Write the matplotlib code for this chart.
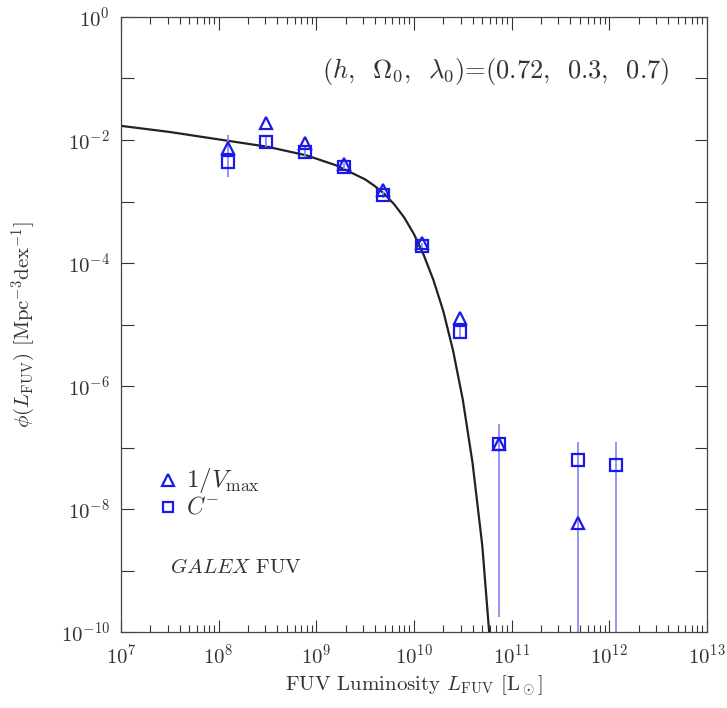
import numpy as np
import matplotlib
matplotlib.use('Agg')
import matplotlib.pyplot as plt
from matplotlib.ticker import LogLocator, NullFormatter, FixedLocator

plt.rcParams['font.family'] = 'serif'
plt.rcParams['font.serif'] = ['cmr10', 'DejaVu Serif']
plt.rcParams['mathtext.fontset'] = 'cm'
plt.rcParams['axes.formatter.use_mathtext'] = True

# luminosity bins (log L_FUV / L_sun)
log_L = [8.10, 8.49, 8.88, 9.28, 9.68, 10.08, 10.47, 10.87, 11.68]
log_L_cm = [8.10, 8.49, 8.88, 9.28, 9.68, 10.08, 10.47, 10.87, 11.68, 12.07]

# 1/Vmax estimate (log phi)
vmax_phi = [-2.13, -1.73, -2.05, -2.39, -2.81, -3.68, -4.89, -6.94, -8.23]

# C- estimate (log phi) with error range
cm_phi = [-2.35, -2.03, -2.19, -2.44, -2.89, -3.73, -5.12, -6.94, -7.20, -7.28]
cm_hi = [-1.92, -1.95, -2.10, -2.38, -2.84, -3.68, -5.02, -6.62, -6.91, -6.91]
cm_lo = [-2.60, -2.12, -2.28, -2.51, -2.95, -3.79, -5.24, -9.75, -11.0, -11.0]

# Schechter fit
fit_logL = [7.0, 7.5, 8.0, 8.5, 8.9, 9.2, 9.5, 9.6, 9.7, 9.8, 9.9, 10.0, 10.1,
            10.2, 10.3, 10.4, 10.5, 10.6, 10.7, 10.78]
fit_logphi = [-1.77, -1.87, -1.99, -2.11, -2.25, -2.41, -2.64, -2.75, -2.88,
              -3.05, -3.26, -3.53, -3.87, -4.28, -4.78, -5.42, -6.22, -7.25,
              -8.60, -10.2]

blue = '#1a1ae6'
light = '#8c8cf0'
grey = '#333333'

fig = plt.figure(figsize=(7.27, 7.08), dpi=100)
ax = fig.add_axes([0.1664, 0.1073, 0.806, 0.8687])

ax.plot(10**np.array(fit_logL), 10**np.array(fit_logphi), color='#222222', lw=1.6)

L_cm = 10**np.array(log_L_cm)
y_cm = 10**np.array(cm_phi)
ax.vlines(L_cm, 10**np.array(cm_lo), 10**np.array(cm_hi), color=light, lw=1.3, zorder=2)

ax.plot(10**np.array(log_L), 10**np.array(vmax_phi), ls='none', marker='^',
        ms=9, mfc='none', mec=blue, mew=1.6, zorder=3)
ax.plot(L_cm, y_cm, ls='none', marker='s', ms=8, mfc='none', mec=blue,
        mew=1.6, zorder=3)

ax.set_xscale('log')
ax.set_yscale('log')
ax.set_xlim(1e7, 1e13)
ax.set_ylim(1e-10, 1)

ax.xaxis.set_major_locator(LogLocator(base=10, numticks=20))
ax.xaxis.set_minor_locator(LogLocator(base=10, subs=np.arange(2, 10), numticks=20))
ax.xaxis.set_minor_formatter(NullFormatter())
ax.yaxis.set_major_locator(FixedLocator([10.0**k for k in range(-10, 1, 2)]))
ax.yaxis.set_minor_locator(FixedLocator([10.0**k for k in range(-9, 0, 2)]))
ax.yaxis.set_minor_formatter(NullFormatter())

ax.tick_params(which='both', direction='in', top=True, right=True,
               labelsize=15, colors=grey, pad=8)
ax.tick_params(which='major', length=9, width=0.8)
ax.tick_params(which='minor', length=5, width=0.8)
ax.tick_params(axis='y', which='minor', length=9)
for s in ax.spines.values():
    s.set_color('#444444')
    s.set_linewidth(0.9)

ax.set_xlabel(r'FUV Luminosity $L_{\rm FUV}$ [L$_\odot$]', fontsize=15,
              color=grey, labelpad=4)
ax.set_ylabel(r'$\phi(L_{\rm FUV})$ [Mpc$^{-3}$dex$^{-1}$]', fontsize=15,
              color=grey, labelpad=16)

ax.text(0.935, 0.912, r'$(h,\;\;\Omega_0,\;\;\lambda_0)$=(0.72,  0.3,  0.7)',
        transform=ax.transAxes, ha='right', va='center', fontsize=19, color=grey)

# legend drawn by hand
ax.plot([3.0e7], [10**-7.53], marker='^', ms=8, mfc='none', mec=blue, mew=1.6)
ax.plot([3.0e7], [10**-7.97], marker='s', ms=7, mfc='none', mec=blue, mew=1.6)
ax.text(4.6e7, 10**-7.53, r'$1/V_{\rm max}$', fontsize=18, va='center', color=grey)
ax.text(4.6e7, 10**-7.97, r'$C^{-}$', fontsize=17, va='center', color=grey)

ax.text(3.2e7, 10**-8.95, r'$GALEX$ FUV', fontsize=15, va='center', color=grey)

fig.savefig('out.png', dpi=100)
